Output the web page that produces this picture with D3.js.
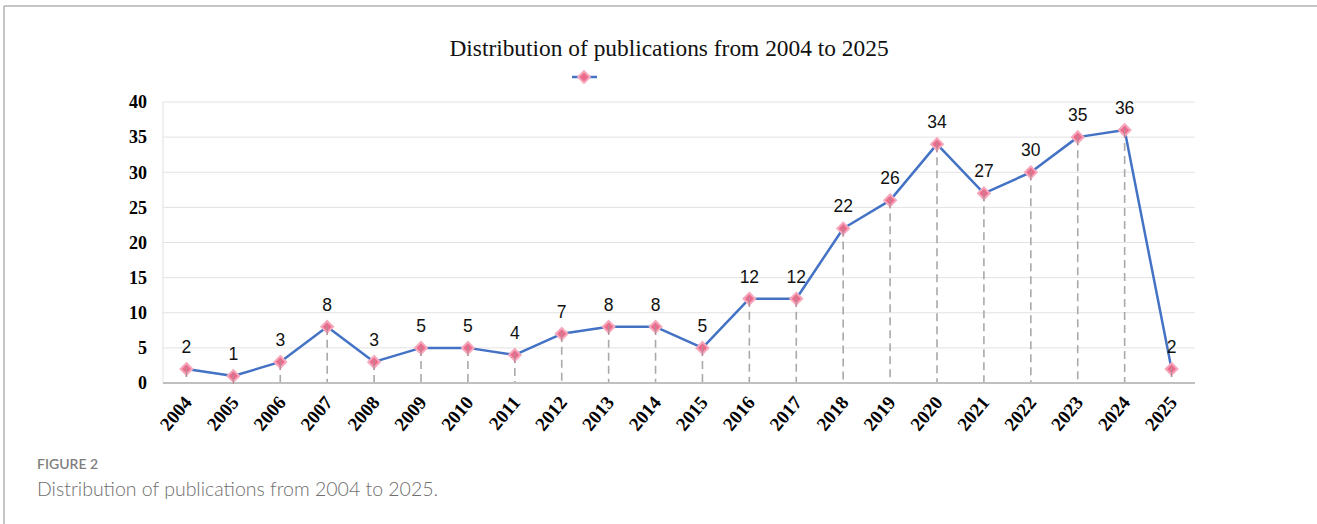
<!DOCTYPE html>
<html>
<head>
<meta charset="utf-8">
<script src="https://cdn.jsdelivr.net/npm/d3@7"></script>
<style>
  html, body { margin: 0; padding: 0; background: #fff; }
  svg { display: block; }
</style>
</head>
<body>
<svg id="chart" width="1317" height="524"></svg>
<script>
// Publications per year
const years = ["2004","2005","2006","2007","2008","2009","2010","2011","2012","2013","2014",
               "2015","2016","2017","2018","2019","2020","2021","2022","2023","2024","2025"];
const counts = [2, 1, 3, 8, 3, 5, 5, 4, 7, 8, 8, 5, 12, 12, 22, 26, 34, 27, 30, 35, 36, 2];
const yTicks = [0, 5, 10, 15, 20, 25, 30, 35, 40];

const titleText = "Distribution of publications from 2004 to 2025";
const figLabel = "FIGURE 2";
const captionText = "Distribution of publications from 2004 to 2025.";

const svg = d3.select("#chart");
const W = 1317, H = 524;
const plot = { left: 163, right: 1195, top: 102, bottom: 383 };

// frame around the figure (top and left edges)
svg.append("line").attr("x1", 4).attr("x2", W).attr("y1", 6).attr("y2", 6)
  .attr("stroke", "#b3b3b3").attr("stroke-width", 1.5);
svg.append("line").attr("x1", 4).attr("x2", 4).attr("y1", 6).attr("y2", H)
  .attr("stroke", "#b3b3b3").attr("stroke-width", 1.5);

const x = d3.scalePoint().domain(years).range([plot.left, plot.right]).padding(0.5);
const y = d3.scaleLinear().domain([0, 40]).range([plot.bottom, plot.top]);

const serif = "'Liberation Serif', 'Times New Roman', serif";
const sans = "'Liberation Sans', Arial, sans-serif";

// title
svg.append("text")
  .attr("x", 669).attr("y", 56)
  .attr("text-anchor", "middle")
  .attr("font-family", serif).attr("font-size", 23.4)
  .attr("fill", "#111")
  .text(titleText);

const markerPath = d3.symbol(d3.symbolDiamond2, 88)();

// legend: line + marker
const legend = svg.append("g").attr("transform", "translate(584,77)");
legend.append("line").attr("x1", -12).attr("x2", 13).attr("y1", 0).attr("y2", 0)
  .attr("stroke", "#4472c4").attr("stroke-width", 2.5);
legend.append("path").attr("d", markerPath)
  .attr("fill", "#ec6a8b").attr("stroke", "#f5a8bb").attr("stroke-width", 2);

// horizontal gridlines
svg.append("g")
  .selectAll("line")
  .data(yTicks.filter(t => t > 0))
  .join("line")
  .attr("x1", plot.left).attr("x2", plot.right)
  .attr("y1", d => y(d)).attr("y2", d => y(d))
  .attr("stroke", "#e2e2e2").attr("stroke-width", 1);

// left edge of plot area
svg.append("line")
  .attr("x1", plot.left).attr("x2", plot.left)
  .attr("y1", plot.top).attr("y2", plot.bottom)
  .attr("stroke", "#e2e2e2").attr("stroke-width", 1);

// y axis labels
const yAxis = d3.axisLeft(y).tickValues(yTicks).tickSize(0).tickPadding(16);
const yg = svg.append("g").attr("transform", `translate(${plot.left},0)`).call(yAxis);
yg.select(".domain").remove();
yg.selectAll("text")
  .attr("font-family", serif).attr("font-size", 18).attr("font-weight", "bold")
  .attr("fill", "#000");

// dashed drop lines
svg.append("g")
  .selectAll("line")
  .data(years)
  .join("line")
  .attr("x1", d => x(d)).attr("x2", d => x(d))
  .attr("y1", (d, i) => y(counts[i])).attr("y2", plot.bottom)
  .attr("stroke", "#a9a9a9").attr("stroke-width", 1.6)
  .attr("stroke-dasharray", "8,5");

// x axis
const xAxis = d3.axisBottom(x).tickSize(0).tickPadding(0);
const xg = svg.append("g").attr("transform", `translate(0,${plot.bottom})`).call(xAxis);
xg.select(".domain").attr("stroke", "#c0c0c0").attr("stroke-width", 2)
  .attr("d", `M${plot.left},0H${plot.right}`);
xg.selectAll("text")
  .attr("font-family", serif).attr("font-size", 19).attr("font-weight", "bold")
  .attr("fill", "#000")
  .attr("text-anchor", "end")
  .attr("dy", null)
  .attr("transform", "translate(6,20) rotate(-50)");

// series line
const line = d3.line().x((d, i) => x(years[i])).y(d => y(d));
svg.append("path").datum(counts)
  .attr("d", line)
  .attr("fill", "none")
  .attr("stroke", "#4472c4").attr("stroke-width", 2.5)
  .attr("stroke-linejoin", "round");

// markers
svg.append("g")
  .selectAll("path")
  .data(counts)
  .join("path")
  .attr("transform", (d, i) => `translate(${x(years[i])},${y(d)})`)
  .attr("d", markerPath)
  .attr("fill", "#ec6a8b").attr("stroke", "#f5a8bb").attr("stroke-width", 2);

// short stem visible inside each marker
svg.append("g")
  .selectAll("line")
  .data(counts)
  .join("line")
  .attr("x1", (d, i) => x(years[i])).attr("x2", (d, i) => x(years[i]))
  .attr("y1", d => y(d) - 2).attr("y2", d => y(d) + 8)
  .attr("stroke", "#b88a96").attr("stroke-width", 1.2);

// value labels
svg.append("g")
  .selectAll("text")
  .data(counts)
  .join("text")
  .attr("x", (d, i) => x(years[i]))
  .attr("y", d => y(d) - 16)
  .attr("text-anchor", "middle")
  .attr("font-family", sans).attr("font-size", 17.5)
  .attr("fill", "#111")
  .text(d => d);

// caption
svg.append("text")
  .attr("x", 37).attr("y", 469)
  .attr("font-family", "Lato, 'Open Sans', sans-serif").attr("font-size", 14)
  .attr("font-weight", 600)
  .attr("fill", "#7f7f7f")
  .text(figLabel);
svg.append("text")
  .attr("x", 37).attr("y", 496)
  .attr("font-family", "Lato, 'Open Sans', sans-serif").attr("font-size", 19.5)
  .attr("font-weight", 300)
  .attr("fill", "#6e6e6e")
  .text(captionText);
</script>
</body>
</html>
